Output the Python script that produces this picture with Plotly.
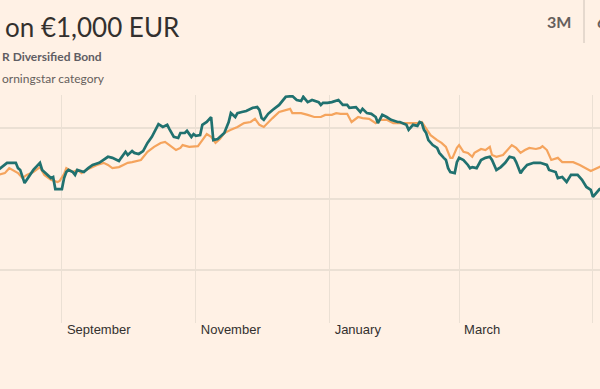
import plotly.graph_objects as go

# Fund (teal) series
fund_dates = ["2017-08-03", "2017-08-07", "2017-08-11", "2017-08-12", "2017-08-13", "2017-08-15",
              "2017-08-19", "2017-08-22", "2017-08-23", "2017-08-27", "2017-08-28", "2017-08-29",
              "2017-09-01", "2017-09-02", "2017-09-03", "2017-09-04", "2017-09-06", "2017-09-07",
              "2017-09-08", "2017-09-11", "2017-09-13", "2017-09-15", "2017-09-18", "2017-09-22",
              "2017-09-24", "2017-09-27", "2017-09-28", "2017-09-30", "2017-10-01", "2017-10-03",
              "2017-10-04", "2017-10-06", "2017-10-08", "2017-10-10", "2017-10-12", "2017-10-14",
              "2017-10-15", "2017-10-17", "2017-10-19", "2017-10-20", "2017-10-22", "2017-10-24",
              "2017-10-25", "2017-10-27", "2017-10-28", "2017-10-30", "2017-10-31", "2017-11-01",
              "2017-11-03", "2017-11-04", "2017-11-06", "2017-11-08", "2017-11-09", "2017-11-11",
              "2017-11-12", "2017-11-14", "2017-11-16", "2017-11-17", "2017-11-19", "2017-11-20",
              "2017-11-22", "2017-11-24", "2017-11-27", "2017-11-29", "2017-11-30", "2017-12-01",
              "2017-12-02", "2017-12-04", "2017-12-06", "2017-12-09", "2017-12-12", "2017-12-15",
              "2017-12-17", "2017-12-19", "2017-12-20", "2017-12-22", "2017-12-24", "2017-12-27",
              "2017-12-28", "2017-12-29", "2017-12-31", "2018-01-02", "2018-01-05", "2018-01-07",
              "2018-01-09", "2018-01-10", "2018-01-13", "2018-01-15", "2018-01-16", "2018-01-18",
              "2018-01-20", "2018-01-22", "2018-01-23", "2018-01-25", "2018-01-27", "2018-01-29",
              "2018-02-01", "2018-02-02", "2018-02-05", "2018-02-06", "2018-02-08", "2018-02-10",
              "2018-02-11", "2018-02-12", "2018-02-13", "2018-02-14", "2018-02-15", "2018-02-17",
              "2018-02-19", "2018-02-20", "2018-02-22", "2018-02-23", "2018-02-24", "2018-02-25",
              "2018-02-27", "2018-02-28", "2018-03-01", "2018-03-03", "2018-03-05", "2018-03-06",
              "2018-03-07", "2018-03-09", "2018-03-11", "2018-03-13", "2018-03-15", "2018-03-16",
              "2018-03-18", "2018-03-20", "2018-03-22", "2018-03-24", "2018-03-26", "2018-03-27",
              "2018-03-29", "2018-03-30", "2018-04-01", "2018-04-04", "2018-04-07", "2018-04-10",
              "2018-04-11", "2018-04-14", "2018-04-15", "2018-04-17", "2018-04-19", "2018-04-21",
              "2018-04-24", "2018-04-26", "2018-04-28", "2018-04-30", "2018-05-01", "2018-05-03",
              "2018-05-04", "2018-05-05"]
fund_values = [1008.1, 1010.1, 1010.1, 1008.6, 1008.1, 1004.4,
               1008.1, 1010.1, 1008.1, 1005.8, 1006.1, 1002.7,
               1002.7, 1005.8, 1007.5, 1008.1, 1007.5, 1006.7,
               1008.1, 1007.5, 1008.6, 1009.5, 1010.1, 1011.8,
               1011.5, 1010.6, 1011.5, 1013.2, 1012.3, 1013.4,
               1012.9, 1012.6, 1013.4, 1015.7, 1017.4, 1019.9,
               1021.0, 1020.2, 1020.8, 1019.6, 1017.4, 1017.1,
               1018.5, 1018.5, 1019.1, 1017.4, 1018.2, 1017.7,
               1017.9, 1020.8, 1021.6, 1023.0, 1016.5, 1016.8,
               1017.4, 1018.5, 1021.6, 1024.1, 1023.0, 1024.1,
               1024.4, 1024.7, 1025.6, 1025.8, 1025.0, 1022.7,
               1022.2, 1023.9, 1025.0, 1026.4, 1028.7, 1028.9,
               1027.8, 1027.5, 1028.7, 1027.2, 1027.8, 1027.2,
               1026.4, 1027.0, 1027.0, 1027.2, 1027.8, 1026.4,
               1026.4, 1025.6, 1025.8, 1024.4, 1025.3, 1024.1,
               1023.9, 1023.0, 1021.3, 1023.6, 1023.0, 1022.2,
               1021.6, 1021.6, 1020.8, 1019.4, 1020.8, 1020.5,
               1021.6, 1021.3, 1019.4, 1018.5, 1016.5, 1015.1,
               1014.3, 1012.9, 1011.5, 1010.9, 1008.6, 1007.5,
               1007.2, 1010.3, 1011.5, 1010.9, 1009.5, 1008.6,
               1008.9, 1008.6, 1010.9, 1011.5, 1011.8, 1010.9,
               1008.1, 1008.9, 1010.1, 1011.8, 1011.5, 1010.3,
               1007.2, 1008.1, 1009.5, 1010.1, 1010.1, 1009.5,
               1008.1, 1007.5, 1005.8, 1006.1, 1004.7, 1006.7,
               1006.7, 1005.3, 1003.3, 1002.5, 1000.5, 1001.9,
               1002.7, 1003.0]

# Morningstar category (orange) series
cat_dates = ["2017-08-03", "2017-08-06", "2017-08-08", "2017-08-11", "2017-08-12", "2017-08-14",
             "2017-08-16", "2017-08-19", "2017-08-22", "2017-08-24", "2017-08-27", "2017-08-30",
             "2017-08-31", "2017-09-02", "2017-09-03", "2017-09-06", "2017-09-08", "2017-09-10",
             "2017-09-12", "2017-09-15", "2017-09-17", "2017-09-20", "2017-09-22", "2017-09-24",
             "2017-09-27", "2017-09-29", "2017-10-01", "2017-10-03", "2017-10-07", "2017-10-10",
             "2017-10-13", "2017-10-16", "2017-10-18", "2017-10-20", "2017-10-23", "2017-10-25",
             "2017-10-26", "2017-10-29", "2017-10-31", "2017-11-02", "2017-11-04", "2017-11-06",
             "2017-11-08", "2017-11-10", "2017-11-12", "2017-11-14", "2017-11-17", "2017-11-20",
             "2017-11-23", "2017-11-26", "2017-11-28", "2017-11-30", "2017-12-02", "2017-12-04",
             "2017-12-06", "2017-12-09", "2017-12-12", "2017-12-14", "2017-12-15", "2017-12-19",
             "2017-12-22", "2017-12-25", "2017-12-28", "2017-12-30", "2018-01-02", "2018-01-04",
             "2018-01-06", "2018-01-09", "2018-01-11", "2018-01-14", "2018-01-16", "2018-01-19",
             "2018-01-22", "2018-01-24", "2018-01-27", "2018-01-30", "2018-02-02", "2018-02-06",
             "2018-02-10", "2018-02-12", "2018-02-14", "2018-02-16", "2018-02-19", "2018-02-21",
             "2018-02-23", "2018-02-25", "2018-02-26", "2018-02-28", "2018-03-01", "2018-03-03",
             "2018-03-05", "2018-03-07", "2018-03-08", "2018-03-11", "2018-03-13", "2018-03-15",
             "2018-03-16", "2018-03-18", "2018-03-21", "2018-03-23", "2018-03-25", "2018-03-27",
             "2018-03-29", "2018-03-31", "2018-04-02", "2018-04-05", "2018-04-07", "2018-04-08",
             "2018-04-10", "2018-04-12", "2018-04-15", "2018-04-17", "2018-04-20", "2018-04-22",
             "2018-04-25", "2018-04-28", "2018-04-30", "2018-05-01", "2018-05-03", "2018-05-04",
             "2018-05-05"]
cat_values = [1006.7, 1007.2, 1008.6, 1007.5, 1007.2, 1005.8,
              1006.7, 1007.5, 1008.9, 1006.7, 1005.3, 1004.7,
              1005.0, 1007.0, 1008.6, 1007.5, 1008.1, 1007.2,
              1008.1, 1008.9, 1009.5, 1010.1, 1009.5, 1008.6,
              1008.9, 1009.5, 1010.1, 1010.3, 1010.9, 1013.2,
              1014.6, 1015.7, 1016.0, 1015.1, 1013.7, 1014.3,
              1015.1, 1014.6, 1014.8, 1014.8, 1016.5, 1018.2,
              1017.4, 1015.7, 1016.8, 1018.5, 1019.4, 1020.2,
              1021.3, 1021.6, 1022.5, 1020.8, 1020.2, 1021.6,
              1022.7, 1024.4, 1025.0, 1025.3, 1024.1, 1024.1,
              1023.6, 1023.0, 1023.0, 1023.6, 1023.6, 1024.1,
              1023.9, 1023.9, 1021.6, 1023.0, 1022.7, 1022.5,
              1021.3, 1022.2, 1022.2, 1021.3, 1021.3, 1021.3,
              1021.3, 1021.6, 1019.9, 1017.9, 1016.5, 1015.7,
              1014.6, 1011.5, 1011.5, 1014.3, 1015.1, 1013.2,
              1012.9, 1011.8, 1012.9, 1014.0, 1013.7, 1014.6,
              1012.3, 1011.8, 1012.3, 1013.7, 1015.1, 1014.3,
              1012.9, 1013.7, 1014.3, 1014.0, 1014.3, 1014.8,
              1013.7, 1010.9, 1011.5, 1010.3, 1010.3, 1010.3,
              1009.5, 1008.6, 1007.8, 1008.1, 1008.6, 1008.9,
              1009.2]

# Axis ticks
month_ticks = ["2017-09-01", "2017-11-01", "2018-01-01", "2018-03-01", "2018-05-01"]
month_labels = ["September", "November", "January", "March", ""]
value_ticks = [980, 1000, 1020]

BG = "#fff1e5"
GRID = "#ebe0d4"
TEAL = "#20716f"
ORANGE = "#f5a45d"

fig = go.Figure()
fig.add_trace(go.Scatter(x=cat_dates, y=cat_values, mode="lines",
                         line=dict(color=ORANGE, width=2.2), name="Morningstar category",
                         showlegend=False))
fig.add_trace(go.Scatter(x=fund_dates, y=fund_values, mode="lines",
                         line=dict(color=TEAL, width=2.7), name="EUR Diversified Bond",
                         showlegend=False))

fig.update_layout(
    width=600, height=389,
    margin=dict(l=0, r=0, t=95, b=66),
    paper_bgcolor=BG, plot_bgcolor=BG,
    showlegend=False,
    xaxis=dict(
        type="date",
        range=["2017-08-03 19:00", "2018-05-04 05:00"],
        tickvals=month_ticks, ticktext=month_labels,
        showgrid=True, gridcolor=GRID, gridwidth=1,
        zeroline=False, showline=False, ticks="",
        ticklabelposition="outside right",
        ticklabelshift=5, ticklabelstandoff=-3,
        tickfont=dict(family="Liberation Sans, Arial, sans-serif", size=13, color="#33302e"),
    ),
    yaxis=dict(
        range=[965, 1029.2],
        tickvals=value_ticks,
        showticklabels=False,
        showgrid=True, gridcolor=GRID, gridwidth=1.5,
        zeroline=False, showline=False, ticks="",
    ),
)

def py(p):
    # pixel y (from top of canvas) -> paper y
    return (323 - p) / 228

fig.add_annotation(text="on €1,000 EUR", xref="paper", yref="paper", x=3 / 600, y=py(27),
                   xanchor="left", yanchor="middle", showarrow=False,
                   font=dict(family="Lato, Open Sans, sans-serif", size=26, color="#33302e"))
fig.add_annotation(text="<b>R Diversified Bond</b>", xref="paper", yref="paper", x=0, y=py(57),
                   xanchor="left", yanchor="middle", showarrow=False,
                   font=dict(family="Lato, Open Sans, sans-serif", size=12, color="#5f5d63"))
fig.add_annotation(text="orningstar category", xref="paper", yref="paper", x=0, y=py(78),
                   xanchor="left", yanchor="middle", showarrow=False,
                   font=dict(family="Lato, Open Sans, sans-serif", size=12, color="#66605c"))
fig.add_annotation(text="<b>3M</b>", xref="paper", yref="paper", x=559 / 600, y=py(21),
                   xanchor="center", yanchor="middle", showarrow=False,
                   font=dict(family="Lato, Open Sans, sans-serif", size=16, color="#66605c"))
fig.add_annotation(text="<b>6M</b>", xref="paper", yref="paper", x=595 / 600, y=py(21),
                   xanchor="left", yanchor="middle", showarrow=False,
                   font=dict(family="Lato, Open Sans, sans-serif", size=16, color="#66605c"))
fig.add_shape(type="line", xref="paper", yref="paper", x0=584 / 600, x1=584 / 600,
              y0=py(0), y1=py(43), line=dict(color="#ccc1b7", width=1))

fig.write_html("out.html", config={"displayModeBar": False},
               post_script="document.body.style.margin='0';document.body.style.background='%s';" % BG)
